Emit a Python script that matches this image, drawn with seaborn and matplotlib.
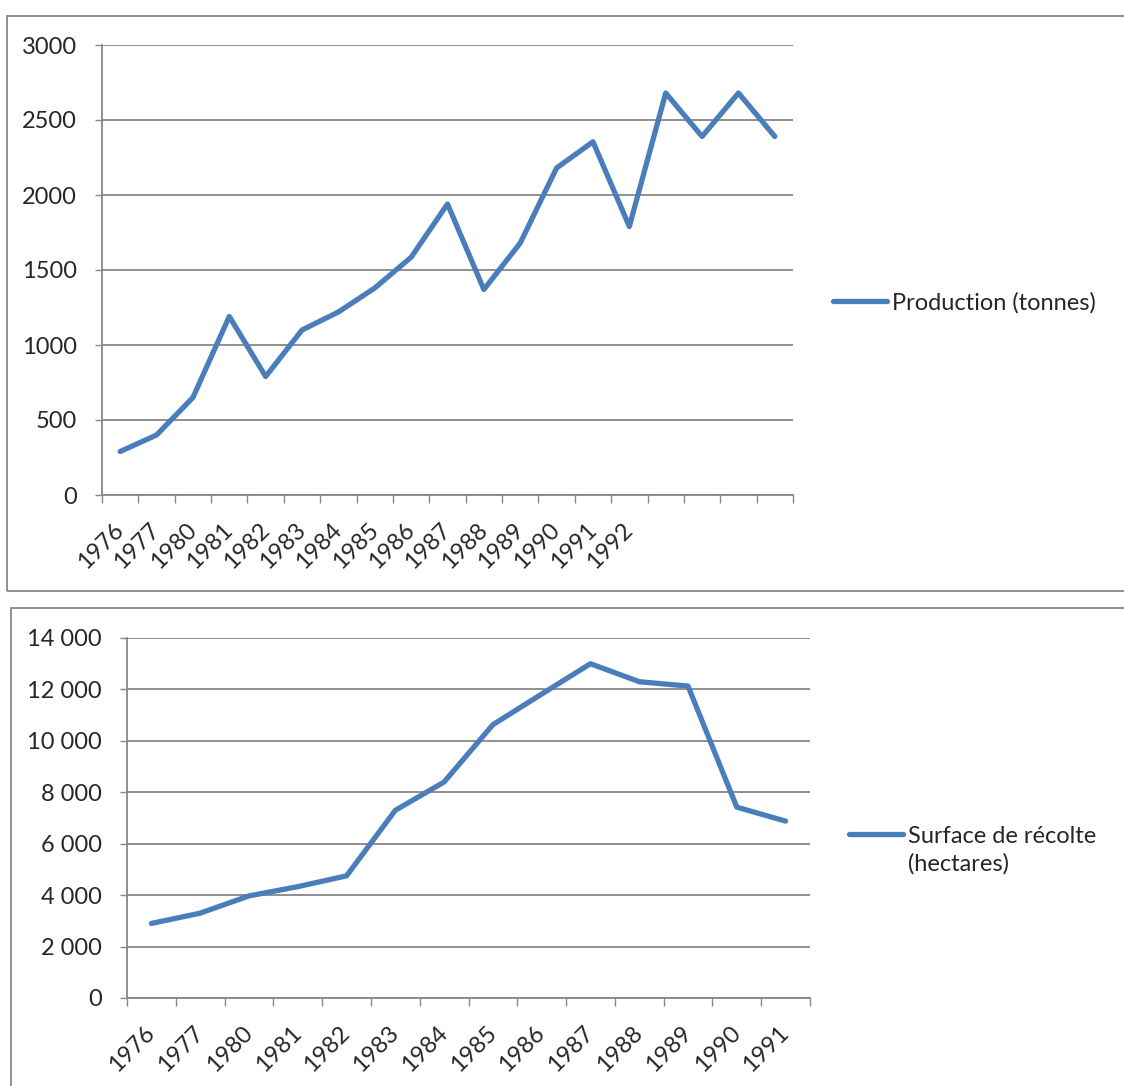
import numpy as np
import pandas as pd
import seaborn as sns
import matplotlib.pyplot as plt
from matplotlib.patches import Rectangle
from matplotlib.ticker import FuncFormatter

sns.set_style("white")
plt.rcParams['font.family'] = ['Lato', 'DejaVu Sans']

# Production series (the last four points have no year label)
prod_years = ["1976", "1977", "1980", "1981", "1982", "1983", "1984", "1985",
              "1986", "1987", "1988", "1989", "1990", "1991", "1992",
              "", "", "", ""]
prod_tonnes = [290, 400, 650, 1190, 790, 1100, 1220, 1380, 1585, 1940,
               1370, 1680, 2180, 2355, 1790, 2680, 2390, 2680, 2390]

# Harvested area series
surf_years = ["1976", "1977", "1980", "1981", "1982", "1983", "1984", "1985",
              "1986", "1987", "1988", "1989", "1990", "1991"]
surf_hectares = [2900, 3300, 3970, 4330, 4750, 7300, 8400, 10630,
                 11820, 13000, 12300, 12130, 7420, 6880]

LINE = '#4A7EBB'
GRAY = '#878787'
FS = 17
W, H = 1124, 1086

fig = plt.figure(figsize=(W / 100, H / 100), dpi=100)

# chart frames
fig.add_artist(Rectangle((7 / W, 1 - 591 / H), (1135 - 7) / W, (591 - 16) / H,
                         transform=fig.transFigure, fill=False,
                         edgecolor=GRAY, lw=1.3))
fig.add_artist(Rectangle((11 / W, 1 - 1100 / H), (1135 - 11) / W, (1100 - 608) / H,
                         transform=fig.transFigure, fill=False,
                         edgecolor=GRAY, lw=1.3))


def style_axes(ax, labels, ymax, ystep, fmt):
    n = len(labels)
    ax.set_xlim(-0.5, n - 0.5)
    ax.set_ylim(0, ymax)
    ax.set_yticks(np.arange(0, ymax + 1, ystep))
    ax.yaxis.set_major_formatter(FuncFormatter(fmt))
    ax.set_xticks(np.arange(n + 1) - 0.5)
    ax.set_xticklabels([])
    ax.set_xticks(np.arange(n), minor=True)
    ax.set_xticklabels(labels, minor=True, rotation=45, ha='right',
                       va='center', rotation_mode='anchor', fontsize=FS)
    ax.tick_params(axis='x', which='major', length=6, width=1, color=GRAY,
                   direction='out', bottom=True)
    ax.tick_params(axis='x', which='minor', length=0, pad=23, bottom=True)
    ax.tick_params(axis='y', which='major', length=5, width=1, color=GRAY,
                   direction='out', pad=13, labelsize=FS, left=True)
    ax.yaxis.grid(True, color=GRAY, lw=1.3)
    ax.xaxis.grid(False)
    for side in ('top', 'right'):
        ax.spines[side].set_visible(False)
    for side in ('left', 'bottom'):
        ax.spines[side].set_color(GRAY)
        ax.spines[side].set_linewidth(1.3)
    ax.set_xlabel('')
    ax.set_ylabel('')


# Production chart
ax1 = fig.add_axes([102 / W, 1 - 495 / H, (793 - 102) / W, (495 - 45) / H])
df1 = pd.DataFrame({'pos': np.arange(len(prod_tonnes)), 'val': prod_tonnes})
sns.lineplot(data=df1, x='pos', y='val', ax=ax1, color=LINE, lw=3.8,
             label='Production (tonnes)')
style_axes(ax1, prod_years, 3000, 500, lambda v, p: f"{int(v)}")
leg1 = ax1.legend(loc='center left', bbox_to_anchor=(833 / W, 1 - 303 / H),
                  bbox_transform=fig.transFigure, frameon=False, fontsize=FS,
                  borderpad=0, borderaxespad=0, handlelength=2.3,
                  handletextpad=0.2)
for h in leg1.legend_handles:
    h.set_linewidth(3.8)

# Harvested area chart
ax2 = fig.add_axes([127 / W, 1 - 998 / H, (810 - 127) / W, (998 - 638) / H])
df2 = pd.DataFrame({'pos': np.arange(len(surf_hectares)), 'val': surf_hectares})
sns.lineplot(data=df2, x='pos', y='val', ax=ax2, color=LINE, lw=3.8,
             label='Surface de récolte\n(hectares)')
style_axes(ax2, surf_years, 14000, 2000,
           lambda v, p: f"{int(v):,}".replace(",", " "))
leg2 = ax2.legend(loc='center left', bbox_to_anchor=(849 / W, 1 - 850 / H),
                  bbox_transform=fig.transFigure, frameon=False, fontsize=FS,
                  borderpad=0, borderaxespad=0, handlelength=2.3,
                  handletextpad=0.2)
for t in leg2.get_texts():
    t.set_linespacing(1.35)
for h in leg2.legend_handles:
    h.set_linewidth(3.8)
    y = np.asarray(h.get_ydata(), dtype=float)
    h.set_ydata(y + 11.5)

fig.savefig('out.png', dpi=100)
